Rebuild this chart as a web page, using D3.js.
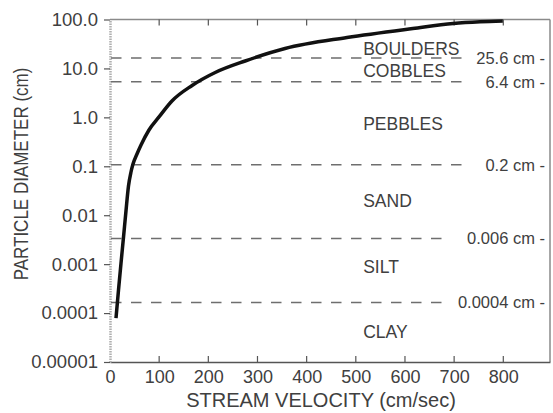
<!DOCTYPE html>
<html>
<head>
<meta charset="utf-8">
<script src="https://cdn.jsdelivr.net/npm/d3@7"></script>
<style>
  html, body { margin: 0; padding: 0; background: #fff; }
  svg { display: block; }
  text { font-family: "Liberation Sans", Arial, sans-serif; fill: #404040; }
</style>
</head>
<body>
<svg id="chart" width="553" height="413"></svg>
<script>
// ---- data ----
const velocity = [12.2, 17.3, 22.4, 27.5, 32.5, 37.6, 42.7, 46.8, 54.9, 63.1, 79.3, 99.7, 126, 167, 214, 275, 356, 482, 616, 698, 753, 799];
const diameter = [0.000079, 0.000296, 0.00105, 0.00359, 0.0122, 0.0395, 0.0764, 0.111, 0.178, 0.272, 0.552, 1.02, 2.16, 4.48, 8.26, 14.2, 25.5, 42.9, 65.5, 82.8, 89.8, 93.2];

const xTicks = [0, 100, 200, 300, 400, 500, 600, 700, 800];
const yTicks = [100, 10, 1, 0.1, 0.01, 0.001, 0.0001, 0.00001];
const yTickLabels = ["100.0", "10.0", "1.0", "0.1", "0.01", "0.001", "0.0001", "0.00001"];

const boundaryLabels = ["25.6 cm -", "6.4 cm -", "0.2 cm -", "0.006 cm -", "0.0004 cm -"];
const boundaryLevel = [16.3, 5.35, 0.107, 0.00336, 0.000165];
const boundaryEnd = [716, 716, 716, 675, 675];

const regionNames = ["BOULDERS", "COBBLES", "PEBBLES", "SAND", "SILT", "CLAY"];
const regionLevel = [24.4, 8.85, 0.73, 0.0194, 0.00089, 0.000041];
const regionVelocity = 515;

// ---- layout ----
const mLeft = 110, mRight = 550, mTop = 19.5, mBottom = 362;
const svg = d3.select("#chart");

const x = d3.scaleLinear().domain([0, 895]).range([mLeft, mRight]);
const y = d3.scaleLog().domain([0.00001, 100]).range([mBottom, mTop]);

// frame: top and right
svg.append("line").attr("x1", mLeft).attr("x2", mRight).attr("y1", mTop).attr("y2", mTop)
  .attr("stroke", "#8a8a8a").attr("stroke-width", 1.5);
svg.append("line").attr("x1", mRight).attr("x2", mRight).attr("y1", mTop).attr("y2", mBottom)
  .attr("stroke", "#8a8a8a").attr("stroke-width", 1.5);

// bottom axis
const xAxis = d3.axisBottom(x).tickValues(xTicks).tickSizeInner(0).tickSizeOuter(0).tickPadding(8);
const gx = svg.append("g").attr("transform", `translate(0,${mBottom})`).call(xAxis);
gx.select(".domain").attr("stroke", "#555").attr("stroke-width", 1.5);
gx.selectAll("text").attr("font-size", "18px").attr("fill", "#404040")
  .attr("font-family", '"Liberation Sans", Arial, sans-serif');
// inward ticks bottom and top
svg.append("g").selectAll("line").data(xTicks.filter(d => d > 0)).join("line")
  .attr("x1", d => x(d)).attr("x2", d => x(d)).attr("y1", mBottom).attr("y2", mBottom - 6)
  .attr("stroke", "#555").attr("stroke-width", 1.2);
svg.append("g").selectAll("line").data(xTicks.filter(d => d > 0)).join("line")
  .attr("x1", d => x(d)).attr("x2", d => x(d)).attr("y1", mTop).attr("y2", mTop + 6)
  .attr("stroke", "#555").attr("stroke-width", 1.2);

// left axis
const yAxis = d3.axisLeft(y).tickValues(yTicks).tickFormat((d, i) => yTickLabels[i])
  .tickSizeInner(6).tickSizeOuter(0).tickPadding(6);
const gy = svg.append("g").attr("transform", `translate(${mLeft},0)`).call(yAxis);
gy.select(".domain").attr("stroke", "#b0b0b0").attr("stroke-width", 2.5).attr("stroke-dasharray", "1.5,1");
gy.selectAll(".tick line").attr("stroke", "#555").attr("stroke-width", 1.2);
gy.selectAll("text").attr("font-size", "18.5px").attr("fill", "#404040")
  .attr("font-family", '"Liberation Sans", Arial, sans-serif');

// boundary labels and dashed lines
const bl = svg.append("g");
boundaryLabels.forEach((lab, i) => {
  const yy = y(boundaryLevel[i]);
  bl.append("line").attr("x1", mLeft + 1).attr("x2", x(boundaryEnd[i])).attr("y1", yy).attr("y2", yy)
    .attr("stroke", "#6e6e6e").attr("stroke-width", 1.5).attr("stroke-dasharray", "10.5,9.5");
  bl.append("text").attr("x", 545).attr("y", yy).attr("text-anchor", "end")
    .attr("dominant-baseline", "central").attr("font-size", "16.5px").text(lab);
});

// region names
svg.append("g").selectAll("text").data(regionNames).join("text")
  .attr("x", x(regionVelocity)).attr("y", (d, i) => y(regionLevel[i]))
  .attr("dominant-baseline", "central").attr("font-size", "17.5px").text(d => d);

// curve
const pts = velocity.map((v, i) => [v, diameter[i]]);
const line = d3.line().x(d => x(d[0])).y(d => y(d[1])).curve(d3.curveMonotoneX);
svg.append("path").datum(pts).attr("d", line).attr("fill", "none")
  .attr("stroke", "#111").attr("stroke-width", 3.5).attr("stroke-linejoin", "round");

// axis titles
svg.append("text").attr("x", 321).attr("y", 407).attr("text-anchor", "middle")
  .attr("font-size", "20px").text("STREAM VELOCITY (cm/sec)");
svg.append("text").attr("transform", "translate(28,174) rotate(-90) scale(1,1.22)")
  .attr("text-anchor", "middle").attr("font-size", "17px").text("PARTICLE DIAMETER (cm)");
</script>
</body>
</html>
